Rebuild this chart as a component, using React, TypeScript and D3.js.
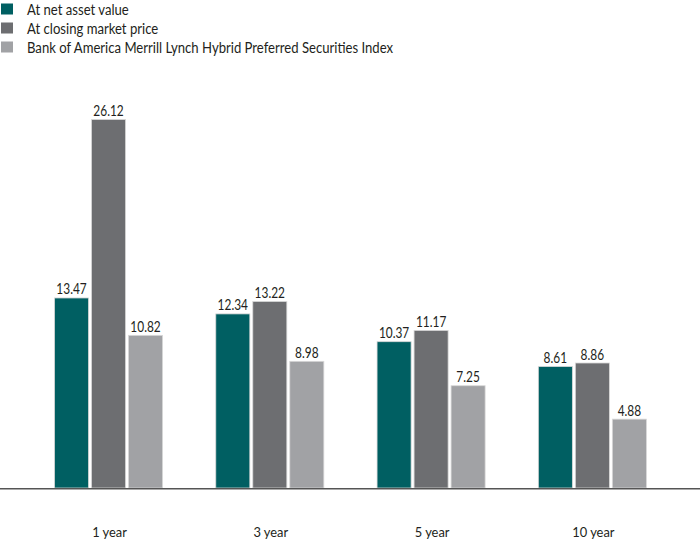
import React from "react";
import * as d3 from "d3";

const categories = ["1 year", "3 year", "5 year", "10 year"];
const seriesNames = [
  "At net asset value",
  "At closing market price",
  "Bank of America Merrill Lynch Hybrid Preferred Securities Index",
];
const navValues = [13.47, 12.34, 10.37, 8.61];
const marketValues = [26.12, 13.22, 11.17, 8.86];
const indexValues = [10.82, 8.98, 7.25, 4.88];
const colors = ["#005f62", "#6d6e71", "#a1a2a5"];

const W = 700;
const H = 543;
const FONT = "Lato, 'Open Sans', sans-serif";

export default function App() {
  const series = [navValues, marketValues, indexValues];
  const groupX = d3
    .scaleBand<string>()
    .domain(categories)
    .range([54.5 - 26.6, 700 - 27])
    .paddingInner(0.33)
    .paddingOuter(0.165);
  const x1 = d3.scaleBand<number>().domain([0, 1, 2]).range([0, groupX.bandwidth()]).paddingInner(0.08);
  const y = d3.scaleLinear().domain([0, 26.12]).range([488, 119.5]);

  return (
    <svg width={W} height={H} style={{ position: "absolute", left: 0, top: 0 }}>
      <rect x={0} y={0} width={W} height={H} fill="#fff" />
      {seriesNames.map((n, i) => (
        <g key={n}>
          <rect x={1} y={3.5 + i * 19} width={12} height={11} fill={colors[i]} />
          <text
            transform={`translate(27,${15 + i * 19}) scale(0.875,1)`}
            fontFamily={FONT}
            fontSize={15}
            fill="#231f20"
          >
            {n}
          </text>
        </g>
      ))}
      {categories.map((c, ci) => (
        <g key={c} transform={`translate(${groupX(c)},0)`}>
          {series.map((vals, si) => {
            const cx = (x1(si) as number) + x1.bandwidth() / 2;
            const ty = y(vals[ci]) - 3.5;
            return (
              <g key={si}>
                <rect
                  x={x1(si)}
                  y={y(vals[ci])}
                  width={x1.bandwidth()}
                  height={y(0) - y(vals[ci])}
                  fill={colors[si]}
                  stroke="#d8d8d8"
                  strokeWidth={0.8}
                />
                <text
                  transform={`translate(${cx},${ty}) scale(0.82,1)`}
                  textAnchor="middle"
                  fontFamily={FONT}
                  fontSize={14.5}
                  fill="#231f20"
                >
                  {vals[ci].toFixed(2)}
                </text>
              </g>
            );
          })}
          <text
            transform={`translate(${groupX.bandwidth() / 2 + 1},537) scale(0.92,1)`}
            textAnchor="middle"
            fontFamily={FONT}
            fontSize={14}
            fill="#231f20"
          >
            {c}
          </text>
        </g>
      ))}
      <line x1={0} x2={W} y1={488.7} y2={488.7} stroke="#555" strokeWidth={1.5} />
    </svg>
  );
}
